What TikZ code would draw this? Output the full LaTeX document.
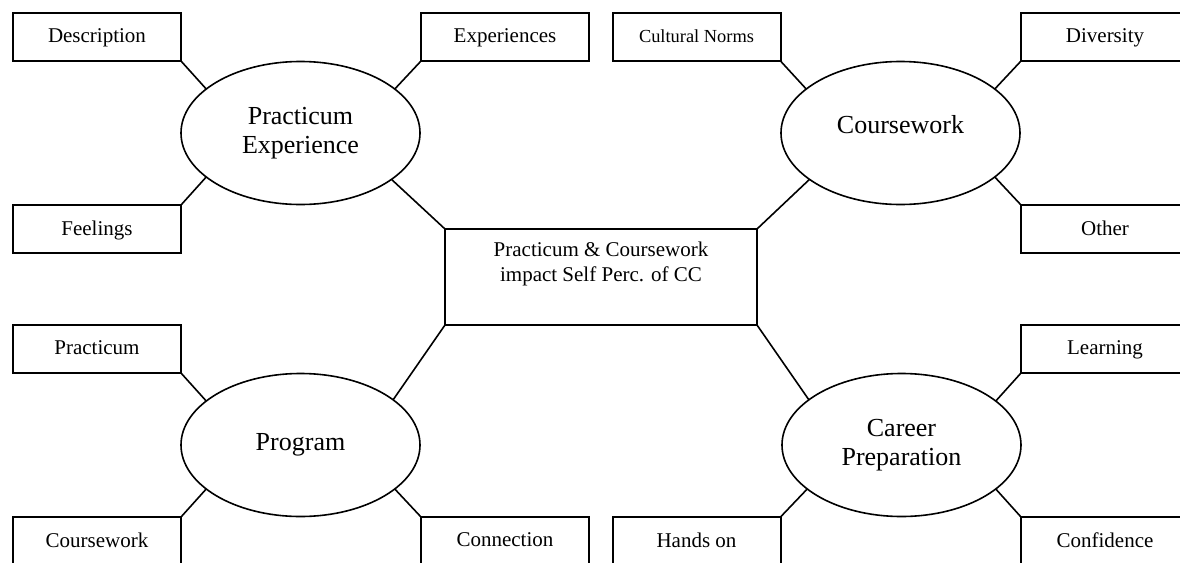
\documentclass[tikz,border=0pt]{standalone}
\usepackage{fontspec}
\setmainfont{Liberation Serif}
\usetikzlibrary{shapes.geometric}

\tikzset{
  leaf/.style={draw, line width=1pt, rectangle, minimum width=84pt, minimum height=24pt,
    inner sep=0pt, outer sep=0pt, text depth=1pt, font=\fontsize{10.5}{12.5}\selectfont},
  theme/.style={draw, line width=0.8pt, ellipse, minimum width=119.5pt, minimum height=71.5pt,
    inner sep=0pt, outer sep=0pt, align=center, font=\fontsize{13}{14.5}\selectfont},
  hub/.style={draw, line width=1pt, rectangle, minimum width=156pt, minimum height=48pt,
    inner sep=0pt, outer sep=0pt},
  link/.style={line width=0.8pt}
}

\begin{document}
\begin{tikzpicture}[x=0.5pt, y=-0.5pt]
  \path[use as bounding box, clip] (0,0) rectangle (1180,563);
  \fill[white] (0,0) rectangle (1180,563);

  % central box
  \node[hub] (core) at (601,277) {};
  \node[align=center, font=\fontsize{10.5}{12.5}\selectfont] (coretext) at (601,264)
    {Practicum \& Coursework\\impact Self Perc. of CC};

  % four themes
  \node[theme] (pe) at (300.5,133) {Practicum\\Experience};
  \node[theme] (cw) at (900.5,133) {};
  \node[font=\fontsize{13}{14.5}\selectfont] (cwtext) at (900.5,125) {Coursework};
  \node[theme] (pg) at (300.5,445) {Program};
  \node[theme] (cp) at (901.5,445) {Career\\Preparation};

  % leaves around Practicum Experience
  \node[leaf] (desc) at (97,37) {Description};
  \node[leaf] (feel) at (97,229) {Feelings};
  \node[leaf] (expe) at (505,37) {Experiences};

  % leaves around Coursework
  \node[leaf, font=\fontsize{9.2}{11}\selectfont] (norms) at (696.5,37) {Cultural Norms};
  \node[leaf] (div) at (1105,37) {Diversity};
  \node[leaf] (other) at (1105,229) {Other};

  % leaves around Program
  \node[leaf] (prac) at (97,349) {Practicum};
  \node[leaf] (cwork) at (97,541) {Coursework};
  \node[leaf] (conn) at (505,541) {Connection};

  % leaves around Career Preparation
  \node[leaf] (hands) at (696.5,541) {Hands on};
  \node[leaf] (learn) at (1105,349) {Learning};
  \node[leaf] (conf) at (1105,541) {Confidence};

  % connectors
  \draw[link] (desc.south east) -- (pe.155);
  \draw[link] (feel.north east) -- (pe.205);
  \draw[link] (expe.south west) -- (pe.25);
  \draw[link] (pe.333) -- (core.north west);

  \draw[link] (norms.south east) -- (cw.155);
  \draw[link] (div.south west) -- (cw.25);
  \draw[link] (other.north west) -- (cw.335);
  \draw[link] (cw.207) -- (core.north east);

  \draw[link] (prac.south east) -- (pg.155);
  \draw[link] (cwork.north east) -- (pg.205);
  \draw[link] (conn.north west) -- (pg.335);
  \draw[link] (pg.26) -- (core.south west);

  \draw[link] (hands.north east) -- (cp.205);
  \draw[link] (learn.south west) -- (cp.25);
  \draw[link] (conf.north west) -- (cp.335);
  \draw[link] (cp.154) -- (core.south east);
\end{tikzpicture}
\end{document}
